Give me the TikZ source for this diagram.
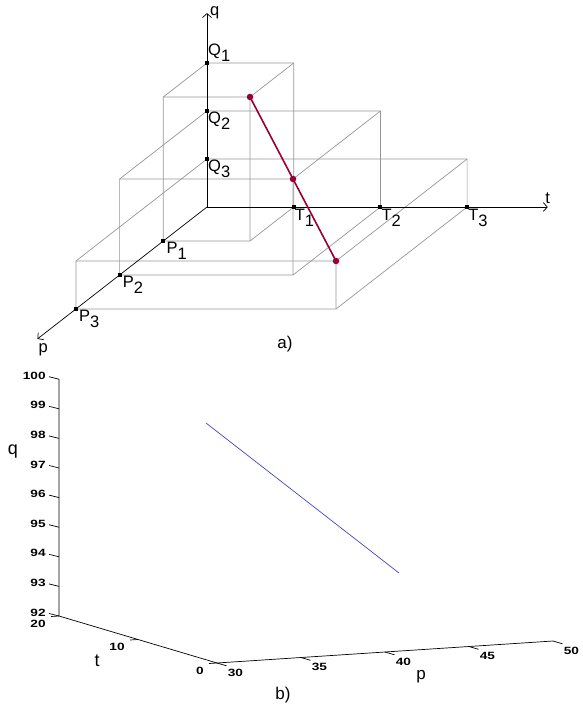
\documentclass[tikz,border=0pt]{standalone}
\usepackage{fontspec}
\setmainfont{Liberation Sans}
\newfontfamily\tickfont{Liberation Sans}[FakeStretch=1.3]
\usepackage{tikz}
\usetikzlibrary{arrows.meta, positioning}

\definecolor{boxgray}{RGB}{150,150,150}
\definecolor{pathred}{RGB}{150,0,50}
\definecolor{plotblue}{RGB}{70,70,185}
\newcommand{\lsub}[2]{#1\raisebox{-6pt}{#2}}
\tikzset{>={Straight Barb[length=4pt,width=9pt]}}

\begin{document}
\begin{tikzpicture}[x=1pt, y=-1pt,
		ax/.style={black, line width=0.7pt},
		boxline/.style={boxgray, line width=0.7pt},
		mk/.style={rectangle, fill=black, inner sep=0pt, minimum size=4pt},
		reddot/.style={circle, fill=pathred, inner sep=0pt, minimum size=6.5pt},
		lbl/.style={font=\fontsize{16.5}{16.5}\selectfont, inner sep=1pt},
		caplbl/.style={font=\fontsize{17}{17}\selectfont, inner sep=1pt},
		tck/.style={font=\tickfont\bfseries\fontsize{10.5}{10.5}\selectfont, inner sep=0pt}]
		\useasboundingbox (0,0) rectangle (582,708);
		% Part a): boxes in the (p,t,q) space
		\begin{scope}[shift={(207pt,-207pt)}, x={(-43.7pt,-34pt)}, y={(86.7pt,0pt)}, z={(0pt,48pt)}]
			\coordinate (O) at (0,0,0);
			\coordinate (pEnd) at (3.88,0,0);
			\coordinate (tEnd) at (0,3.93,0);
			\coordinate (qEnd) at (0,0,4.04);
			% Boxes: depth and width \i, height \j
			\foreach \i/\j in {1/3,2/2,3/1}{
				\draw[boxline] (\i,0,0) -- (\i,\i,0) -- (0,\i,0) -- (0,\i,\j) -- (0,0,\j) -- (\i,0,\j) -- cycle;
				\draw[boxline] (\i,\i,0) -- (\i,\i,\j) -- (0,\i,\j) (\i,\i,\j) -- (\i,0,\j);
				\coordinate (C\i) at (\i,\i,\j);
				\coordinate (P\i) at (\i,0,0);
				\coordinate (T\i) at (0,\i,0);
				\coordinate (Q\i) at (0,0,\j);
			}
			% Axes
			\draw[ax,->] (O) -- (pEnd);
			\draw[ax,->] (O) -- (tEnd);
			\draw[ax,->] (O) -- (qEnd);
			\node[lbl, anchor=north west] (pLab) at ([yshift=-4pt]pEnd) {p};
			\node[lbl, above=2pt] (tLab) at (tEnd) {t};
			\node[lbl, right=2pt] (qLab) at (qEnd) {q};
			% Path through the corners
			\draw[pathred, line width=1.6pt] (C1) -- (C2) -- (C3);
			\foreach \i in {1,2,3}{
				\node[reddot] (D\i) at (C\i) {};
				\node[mk] (mP\i) at (P\i) {};
				\node[mk] (mT\i) at (T\i) {};
				\node[mk] (mQ\i) at (Q\i) {};
				\node[lbl, anchor=north west, xshift=2pt] (labP\i) at (P\i) {\lsub{P}{\i}};
				\node[lbl, anchor=north west, yshift=-1pt] (labT\i) at (T\i) {\lsub{T}{\i}};
			}
			\node[lbl, anchor=south west] (labQ1) at (Q1) {\lsub{Q}{1}};
			\node[lbl, anchor=north west] (labQ2) at (Q2) {\lsub{Q}{2}};
			\node[lbl, anchor=north west] (labQ3) at (Q3) {\lsub{Q}{3}};
		\end{scope}
		\node[caplbl] (capA) at (285,344) {a)};
		% Part b): the same path as a plot
		\coordinate (bTop) at (59,379);
		\coordinate (bQ) at (59,616);
		\coordinate (bT) at (217,663);
		\coordinate (bP) at (553,641);
		\draw[ax] (bTop) -- (bQ) -- (bT) -- (bP);
		% q ticks
		\foreach \v in {92,...,100}
			\draw[ax] (59,{616-29.6*(\v-92)}) -- ++(-10,-2.5) node[tck, anchor=east, xshift=-3pt, yshift=1pt] (q\v) {\v};
		% t ticks
		\foreach \v in {0,10,20}
			\draw[ax] ({217-7.9*\v},{663-2.35*\v}) -- ++(-8,0.5) node[tck, anchor=east, xshift=-5pt, yshift=-7pt] (t\v) {\v};
		% p ticks
		\foreach \v in {30,35,...,50}
			\draw[ax] ({217+16.8*(\v-30)},{663-1.1*(\v-30)}) -- ++(9.5,2.8) node[tck, anchor=north west, xshift=1pt, yshift=-3pt] (p\v) {\v};
		\node[caplbl, font=\fontsize{18}{18}\selectfont] (qAx) at (13,452) {q};
		\node[caplbl, font=\fontsize{18}{18}\selectfont] (tAx) at (97,661) {t};
		\node[caplbl] (pAx) at (421,677) {p};
		% Plotted path
		\coordinate (bStart) at (206,423);
		\coordinate (bEnd) at (399,573);
		\draw[plotblue, line width=0.7pt] (bStart) -- (bEnd);
		\node[caplbl] (capB) at (283,695) {b)};
	\end{tikzpicture}
\end{document}
